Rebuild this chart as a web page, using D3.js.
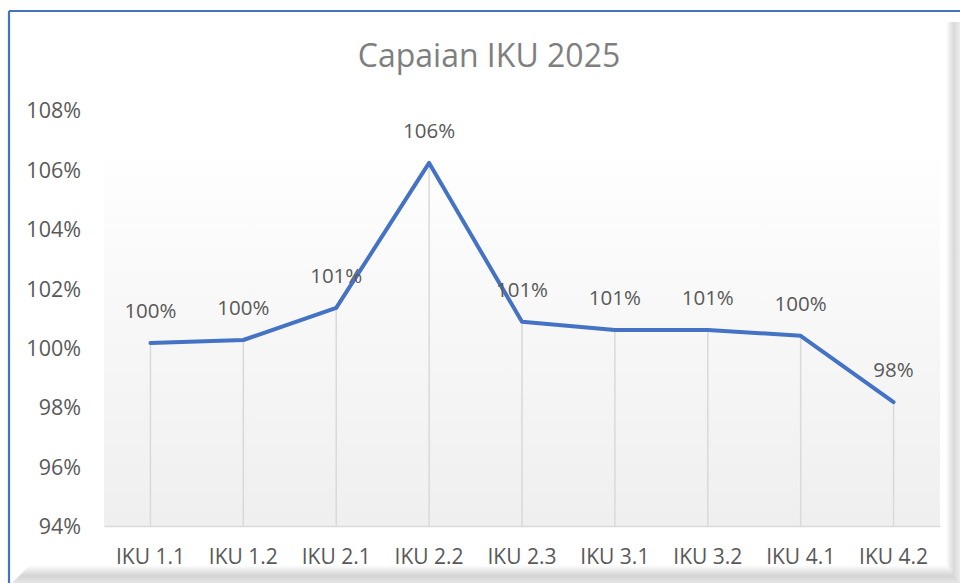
<!DOCTYPE html>
<html>
<head>
<meta charset="utf-8">
<script src="https://cdn.jsdelivr.net/npm/d3@7"></script>
<style>
  html, body { margin: 0; padding: 0; background: #ffffff; }
  svg { display: block; font-family: "Open Sans", "DejaVu Sans", sans-serif; }
</style>
</head>
<body>
<svg id="chart" width="960" height="583"></svg>
<script>
// Capaian IKU 2025 — achievement per indicator
const categories = ["IKU 1.1", "IKU 1.2", "IKU 2.1", "IKU 2.2", "IKU 2.3", "IKU 3.1", "IKU 3.2", "IKU 4.1", "IKU 4.2"];
const achievement = [100.16, 100.26, 101.34, 106.22, 100.87, 100.6, 100.6, 100.4, 98.17];
const valueLabels = ["100%", "100%", "101%", "106%", "101%", "101%", "101%", "100%", "98%"];
const yTicks = [94, 96, 98, 100, 102, 104, 106, 108];
const title = "Capaian IKU 2025";

const W = 960, H = 583;
const plot = { left: 104, right: 940, top: 110, bottom: 526 };

const svg = d3.select("#chart");
const defs = svg.append("defs");

// plot-area fill: white fading to light gray
const bg = defs.append("linearGradient").attr("id", "plotFill")
  .attr("x1", 0).attr("y1", 0).attr("x2", 0).attr("y2", 1);
bg.append("stop").attr("offset", "0%").attr("stop-color", "#fefefe");
bg.append("stop").attr("offset", "100%").attr("stop-color", "#efefef");

// frame shadows (right and bottom)
const shR = defs.append("linearGradient").attr("id", "shadowR")
  .attr("x1", 0).attr("y1", 0).attr("x2", 1).attr("y2", 0);
shR.append("stop").attr("offset", "0%").attr("stop-color", "#ffffff");
shR.append("stop").attr("offset", "55%").attr("stop-color", "#d9d9d9");
shR.append("stop").attr("offset", "100%").attr("stop-color", "#ececec");
const shB = defs.append("linearGradient").attr("id", "shadowB")
  .attr("x1", 0).attr("y1", 0).attr("x2", 0).attr("y2", 1);
shB.append("stop").attr("offset", "0%").attr("stop-color", "#ffffff");
shB.append("stop").attr("offset", "60%").attr("stop-color", "#d4d4d4");
shB.append("stop").attr("offset", "100%").attr("stop-color", "#e6e6e6");

svg.append("rect").attr("x", 0).attr("y", 0).attr("width", W).attr("height", H).attr("fill", "#ffffff");

// shadows
svg.append("rect").attr("x", 946).attr("y", 22).attr("width", 14).attr("height", H - 22).attr("fill", "url(#shadowR)");
svg.append("path")
  .attr("d", `M12,583 L30,565 L946,565 L960,583 Z`)
  .attr("fill", "url(#shadowB)");

// frame border (top and left)
svg.append("line").attr("x1", 9).attr("x2", W).attr("y1", 11).attr("y2", 11)
  .attr("stroke", "#4472c4").attr("stroke-width", 2.2);
svg.append("line").attr("x1", 9).attr("x2", 9).attr("y1", 11).attr("y2", H)
  .attr("stroke", "#4472c4").attr("stroke-width", 2.2);

const x = d3.scaleBand().domain(categories).range([plot.left, plot.right]);
const y = d3.scaleLinear().domain([94, 108]).range([plot.bottom, plot.top]);

// plot area
svg.append("rect")
  .attr("x", plot.left).attr("y", 160)
  .attr("width", plot.right - plot.left).attr("height", plot.bottom - 160)
  .attr("fill", "url(#plotFill)");

// title
svg.append("text")
  .attr("x", 489).attr("y", 67)
  .attr("text-anchor", "middle")
  .attr("font-size", 32)
  .attr("fill", "#7f7f7f")
  .text(title);

// y axis (labels only)
const yAxis = d3.axisLeft(y).tickValues(yTicks).tickFormat(d => d + "%").tickSize(0).tickPadding(0);
const gy = svg.append("g").attr("transform", `translate(81,0)`).call(yAxis);
gy.select(".domain").remove();
gy.selectAll("text").attr("font-size", 21.5).attr("fill", "#595959")
  .attr("font-family", "'Open Sans', sans-serif").attr("dy", "0.36em");

// x axis
const xAxis = d3.axisBottom(x).tickSize(0).tickPadding(0);
const gx = svg.append("g").attr("transform", `translate(0,${plot.bottom})`).call(xAxis);
gx.select(".domain").attr("stroke", "#d9d9d9").attr("stroke-width", 1.5);
gx.selectAll("text").attr("font-size", 21).attr("fill", "#595959")
  .attr("font-family", "'Open Sans', sans-serif").attr("y", 38).attr("dy", 0);

const cx = d => x(d) + x.bandwidth() / 2;

// drop lines
svg.append("g").selectAll("line").data(categories).join("line")
  .attr("x1", d => cx(d)).attr("x2", d => cx(d))
  .attr("y1", (d, i) => y(achievement[i])).attr("y2", plot.bottom)
  .attr("stroke", "#d9d9d9").attr("stroke-width", 1.5);

// series line
const line = d3.line().x((d, i) => cx(categories[i])).y(d => y(d));
svg.append("path").datum(achievement)
  .attr("d", line)
  .attr("fill", "none")
  .attr("stroke", "#4472c4")
  .attr("stroke-width", 4)
  .attr("stroke-linejoin", "round")
  .attr("stroke-linecap", "round");

// data labels
svg.append("g").selectAll("text").data(achievement).join("text")
  .attr("x", (d, i) => cx(categories[i]))
  .attr("y", d => y(d) - 25)
  .attr("text-anchor", "middle")
  .attr("font-size", 20.5)
  .attr("fill", "#595959")
  .text((d, i) => valueLabels[i]);
</script>
</body>
</html>
